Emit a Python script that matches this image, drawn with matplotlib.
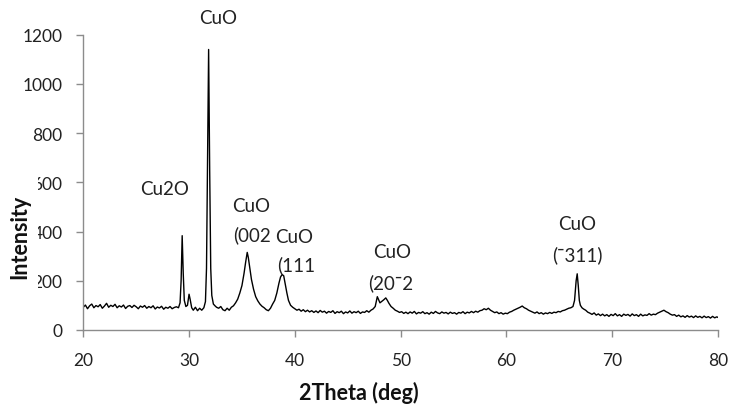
import numpy as np
import matplotlib
matplotlib.use("Agg")
import matplotlib.pyplot as plt
from matplotlib.patches import Rectangle

plt.rcParams['font.family'] = ['Lato', 'DejaVu Sans']

# XRD pattern (2theta in deg, intensity in counts)
two_theta = [
    20.0, 20.2, 20.4, 20.6, 20.8, 21.0, 21.2, 21.4, 21.6, 21.8,
    22.0, 22.2, 22.4, 22.6, 22.8, 23.0, 23.2, 23.4, 23.6, 23.8,
    24.0, 24.2, 24.4, 24.6, 24.8, 25.0, 25.2, 25.4, 25.6, 25.8,
    26.0, 26.2, 26.4, 26.6, 26.8, 27.0, 27.2, 27.4, 27.6, 27.8,
    28.0, 28.2, 28.4, 28.6, 28.8,
    29.0, 29.15, 29.25, 29.35, 29.45, 29.55, 29.7, 29.85, 30.0, 30.1,
    30.25, 30.4, 30.6, 30.8, 31.0, 31.2, 31.4, 31.55, 31.65, 31.75,
    31.85, 31.95, 32.05, 32.15, 32.3, 32.45,
    32.6, 32.8, 33.0, 33.2, 33.4, 33.6, 33.8, 34.0, 34.2, 34.4,
    34.6, 34.8, 35.0, 35.2, 35.35, 35.5, 35.6, 35.75, 35.9, 36.1,
    36.3, 36.5, 36.7, 36.9, 37.1, 37.3, 37.5, 37.7, 37.9, 38.1,
    38.3, 38.5, 38.65, 38.8, 38.95, 39.1, 39.25, 39.4, 39.6, 39.8,
    40.0, 40.2, 40.4, 40.6, 40.8, 41.0, 41.2, 41.4, 41.6, 41.8,
    42.0, 42.2, 42.4, 42.6, 42.8, 43.0, 43.2, 43.4, 43.6, 43.8,
    44.0, 44.2, 44.4, 44.6, 44.8, 45.0, 45.2, 45.4, 45.6, 45.8,
    46.0, 46.2, 46.4, 46.6, 46.8, 47.0, 47.2, 47.4, 47.6, 47.8,
    47.9, 48.05, 48.2, 48.4, 48.6, 48.75, 48.9, 49.1, 49.3, 49.5,
    49.7, 49.9, 50.1, 50.3, 50.5, 50.7, 50.9, 51.1, 51.3, 51.5,
    51.7, 51.9, 52.1, 52.3, 52.5, 52.7, 52.9, 53.1, 53.3, 53.5,
    53.7, 53.9, 54.1, 54.3, 54.5, 54.7, 54.9, 55.1, 55.3, 55.5,
    55.7, 55.9, 56.1, 56.3, 56.5, 56.7, 56.9, 57.1, 57.3, 57.5,
    57.7, 57.9, 58.1, 58.3, 58.5, 58.7, 58.9, 59.1, 59.3, 59.5,
    59.7, 59.9, 60.1, 60.3, 60.5, 60.7, 60.9, 61.1, 61.3, 61.5,
    61.7, 61.9, 62.1, 62.3, 62.5, 62.7, 62.9, 63.1, 63.3, 63.5,
    63.7, 63.9, 64.1, 64.3, 64.5, 64.7, 64.9, 65.1, 65.3, 65.5,
    65.7, 65.9, 66.1, 66.3, 66.45, 66.6, 66.7, 66.8, 66.9, 67.0,
    67.15, 67.3, 67.5, 67.7, 67.9, 68.1, 68.3, 68.5, 68.7, 68.9,
    69.1, 69.3, 69.5, 69.7, 69.9, 70.1, 70.3, 70.5, 70.7, 70.9,
    71.1, 71.3, 71.5, 71.7, 71.9, 72.1, 72.3, 72.5, 72.7, 72.9,
    73.1, 73.3, 73.5, 73.7, 73.9, 74.1, 74.3, 74.5, 74.7, 74.9,
    75.1, 75.3, 75.5, 75.7, 75.9, 76.1, 76.3, 76.5, 76.7, 76.9,
    77.1, 77.3, 77.5, 77.7, 77.9, 78.1, 78.3, 78.5, 78.7, 78.9,
    79.1, 79.3, 79.5, 79.7, 79.9, 80.0,
]
intensity = [
    92, 101, 86, 98, 105, 90, 99, 94, 103, 88,
    97, 108, 92, 100, 95, 104, 90, 98, 93, 101,
    87, 96, 99, 91, 100, 94, 86, 97, 92, 99,
    88, 95, 90, 98, 85, 93, 89, 96, 84, 92,
    88, 95, 86, 91, 94,
    90, 110, 200, 383, 230, 120, 95, 100, 145, 125,
    90, 80, 92, 78, 88, 80, 90, 115, 250, 700,
    1140, 650, 250, 140, 105, 98,
    92, 88, 95, 82, 78, 88, 80, 92, 98, 110,
    125, 150, 180, 230, 275, 315, 295, 250, 205, 165,
    135, 118, 105, 96, 90, 82, 78, 88, 105, 120,
    150, 190, 215, 225, 220, 185, 150, 120, 100, 92,
    86, 80, 84, 76, 82, 74, 80, 73, 78, 71,
    77, 70, 79, 72, 76, 68, 75, 71, 78, 67,
    74, 70, 76, 66, 73, 69, 77, 68, 74, 70,
    76, 67, 73, 71, 78, 72, 80, 85, 95, 135,
    125, 110, 115, 122, 130, 120, 108, 95, 88, 80,
    76, 71, 74, 67, 72, 66, 73, 68, 75, 65,
    71, 68, 74, 66, 70, 64, 72, 67, 75, 69,
    66, 73, 68, 71, 65, 72, 67, 70, 64, 71,
    68, 74, 66, 72, 69, 75, 70, 76, 72, 78,
    80, 86, 82, 88, 80, 75, 70, 73, 66, 70,
    64, 68, 66, 72, 75, 80, 84, 88, 92, 97,
    90, 86, 80, 76, 72, 68, 73, 66, 70, 64,
    69, 66, 71, 67, 72, 70, 75, 73, 78, 80,
    84, 88, 90, 95, 120, 200, 228, 180, 120, 100,
    90, 85, 80, 72, 68, 63, 69, 60, 65, 58,
    64, 57, 62, 55, 63, 58, 66, 57, 62, 55,
    64, 59, 63, 56, 65, 58, 62, 55, 64, 57,
    61, 59, 66, 60, 64, 62, 68, 72, 76, 80,
    74, 70, 64, 60, 62, 55, 60, 53, 57, 51,
    58, 52, 56, 50, 57, 51, 55, 49, 56, 50,
    54, 48, 55, 49, 53, 51,
]

# peak labels: text, x, y, alignment
peak_labels = ["CuO", "Cu2O", "CuO", "(002", "CuO", "(111",
               "CuO", "(20\u00af2", "CuO", "(\u00af311)"]
label_x = [32.74, 27.64, 35.87, 34.16, 39.93, 38.33, 49.2, 46.93, 66.7, 66.7]
label_y = [1272, 573, 504, 390, 378, 268, 317, 195, 431, 309]
label_ha = ["center", "center", "center", "left", "center", "left",
            "center", "left", "center", "center"]

xticks = [20, 30, 40, 50, 60, 70, 80]
yticks = [0, 200, 400, 600, 800, 1000, 1200]

fig = plt.figure(figsize=(7.47, 4.06), dpi=100)
ax = fig.add_axes([0.1115, 0.185, 0.8495, 0.727])

ax.plot(two_theta, intensity, color="black", lw=1.0)

ax.set_xlim(20, 80)
ax.set_ylim(0, 1200)
ax.set_xticks(xticks)
ax.set_yticks(yticks)

for s in ["top", "right"]:
    ax.spines[s].set_visible(False)
for s in ["left", "bottom"]:
    ax.spines[s].set_color("#8c8c8c")
    ax.spines[s].set_linewidth(1.0)
ax.tick_params(axis="both", colors="#8c8c8c", labelcolor="#222222",
               labelsize=12.5, length=5, width=1.0, direction="out")
ax.tick_params(axis="x", pad=11)
ax.tick_params(axis="y", pad=10)

for t, x, y, ha in zip(peak_labels, label_x, label_y, label_ha):
    ax.text(x, y, t, ha=ha, va="center", fontsize=13.5, color="#222222",
            clip_on=False)

# white box that hides part of the y tick labels, as in the source image
fig.patches.append(Rectangle((0, 0.286), 0.051, 0.295, transform=fig.transFigure,
                             facecolor="white", edgecolor="none", zorder=2))
fig.text(0.026, 0.417, "Intensity", rotation=90, ha="center", va="center",
         fontsize=15.5, fontweight="bold", color="#111111", zorder=3)
fig.text(0.48, 0.016, "2Theta (deg)", ha="center", va="baseline",
         fontsize=15.5, fontweight="bold", color="#111111")

fig.savefig("out.png", dpi=100)
plt.close(fig)
